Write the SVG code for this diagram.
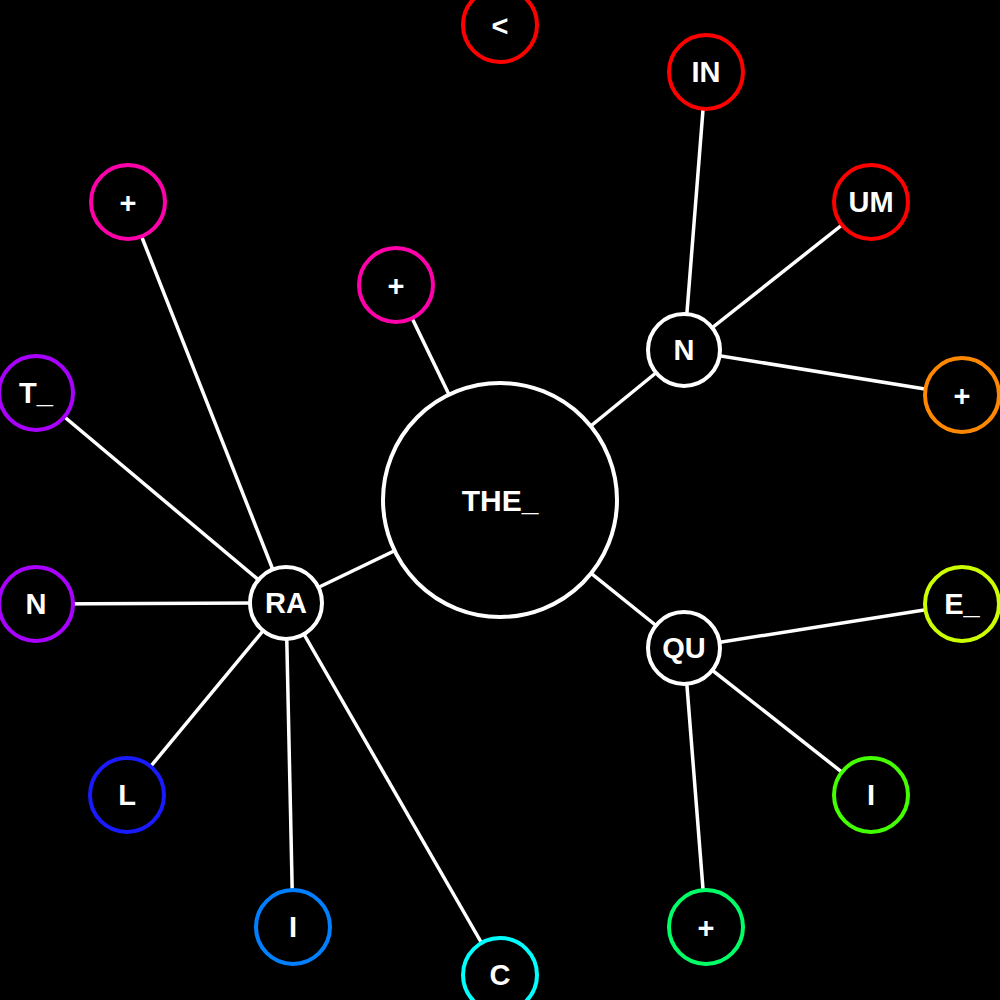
<svg xmlns="http://www.w3.org/2000/svg" width="1000" height="1000" viewBox="0 0 1000 1000">
<style>
.e{stroke:#fff;stroke-width:3.5;fill:none}
.n circle{fill:#000;stroke-width:4}
.n text{fill:#fff;font-family:"Liberation Sans",Arial,sans-serif;font-weight:bold;font-size:29px;text-anchor:middle;dominant-baseline:central}
.w circle{stroke:#fff}
</style>
<rect width="1000" height="1000" fill="#000"/>
<g id="edges">
<line class="e" x1="500" y1="500" x2="684" y2="350"/>
<line class="e" x1="500" y1="500" x2="684" y2="648"/>
<line class="e" x1="500" y1="500" x2="286" y2="603"/>
<line class="e" x1="500" y1="500" x2="396" y2="285"/>
<line class="e" x1="684" y1="350" x2="706" y2="72"/>
<line class="e" x1="684" y1="350" x2="871" y2="202"/>
<line class="e" x1="684" y1="350" x2="962" y2="395"/>
<line class="e" x1="684" y1="648" x2="962" y2="604"/>
<line class="e" x1="684" y1="648" x2="871" y2="795"/>
<line class="e" x1="684" y1="648" x2="706" y2="927"/>
<line class="e" x1="286" y1="603" x2="128" y2="202"/>
<line class="e" x1="286" y1="603" x2="36" y2="393"/>
<line class="e" x1="286" y1="603" x2="36" y2="604"/>
<line class="e" x1="286" y1="603" x2="127" y2="795"/>
<line class="e" x1="286" y1="603" x2="293" y2="927"/>
<line class="e" x1="286" y1="603" x2="500" y2="975"/>
</g>
<g id="THE_" class="n w"><circle cx="500" cy="500" r="117"/><text x="500" y="500" style="font-size:30px">THE_</text></g>
<g id="N1" class="n w"><circle cx="684" cy="350" r="36"/><text x="684" y="350">N</text></g>
<g id="QU" class="n w"><circle cx="684" cy="648" r="36"/><text x="684" y="648">QU</text></g>
<g id="RA" class="n w"><circle cx="286" cy="603" r="36"/><text x="286" y="603">RA</text></g>
<g id="lt" class="n"><circle cx="500" cy="25" r="37" stroke="#ff0000"/><text x="500" y="26">&lt;</text></g>
<g id="IN" class="n"><circle cx="706" cy="72" r="37" stroke="#ff0000"/><text x="706" y="72">IN</text></g>
<g id="UM" class="n"><circle cx="871" cy="202" r="37" stroke="#ff0000"/><text x="871" y="202">UM</text></g>
<g id="plus1" class="n"><circle cx="962" cy="395" r="37" stroke="#ff8800"/><text x="962" y="396">+</text></g>
<g id="E_" class="n"><circle cx="962" cy="604" r="37" stroke="#ccff00"/><text x="962" y="604">E_</text></g>
<g id="I1" class="n"><circle cx="871" cy="795" r="37" stroke="#44ff00"/><text x="871" y="795">I</text></g>
<g id="plus2" class="n"><circle cx="706" cy="927" r="37" stroke="#00ff66"/><text x="706" y="928">+</text></g>
<g id="C" class="n"><circle cx="500" cy="975" r="37" stroke="#00ffff"/><text x="500" y="975">C</text></g>
<g id="I2" class="n"><circle cx="293" cy="927" r="37" stroke="#0080ff"/><text x="293" y="927">I</text></g>
<g id="L" class="n"><circle cx="127" cy="795" r="37" stroke="#1a1aff"/><text x="127" y="795">L</text></g>
<g id="N2" class="n"><circle cx="36" cy="604" r="37" stroke="#aa00ff"/><text x="36" y="604">N</text></g>
<g id="T_" class="n"><circle cx="36" cy="393" r="37" stroke="#aa00ff"/><text x="36" y="393">T_</text></g>
<g id="plus3" class="n"><circle cx="128" cy="202" r="37" stroke="#ff00aa"/><text x="128" y="203">+</text></g>
<g id="plus4" class="n"><circle cx="396" cy="285" r="37" stroke="#ff00aa"/><text x="396" y="286">+</text></g>
</svg>
